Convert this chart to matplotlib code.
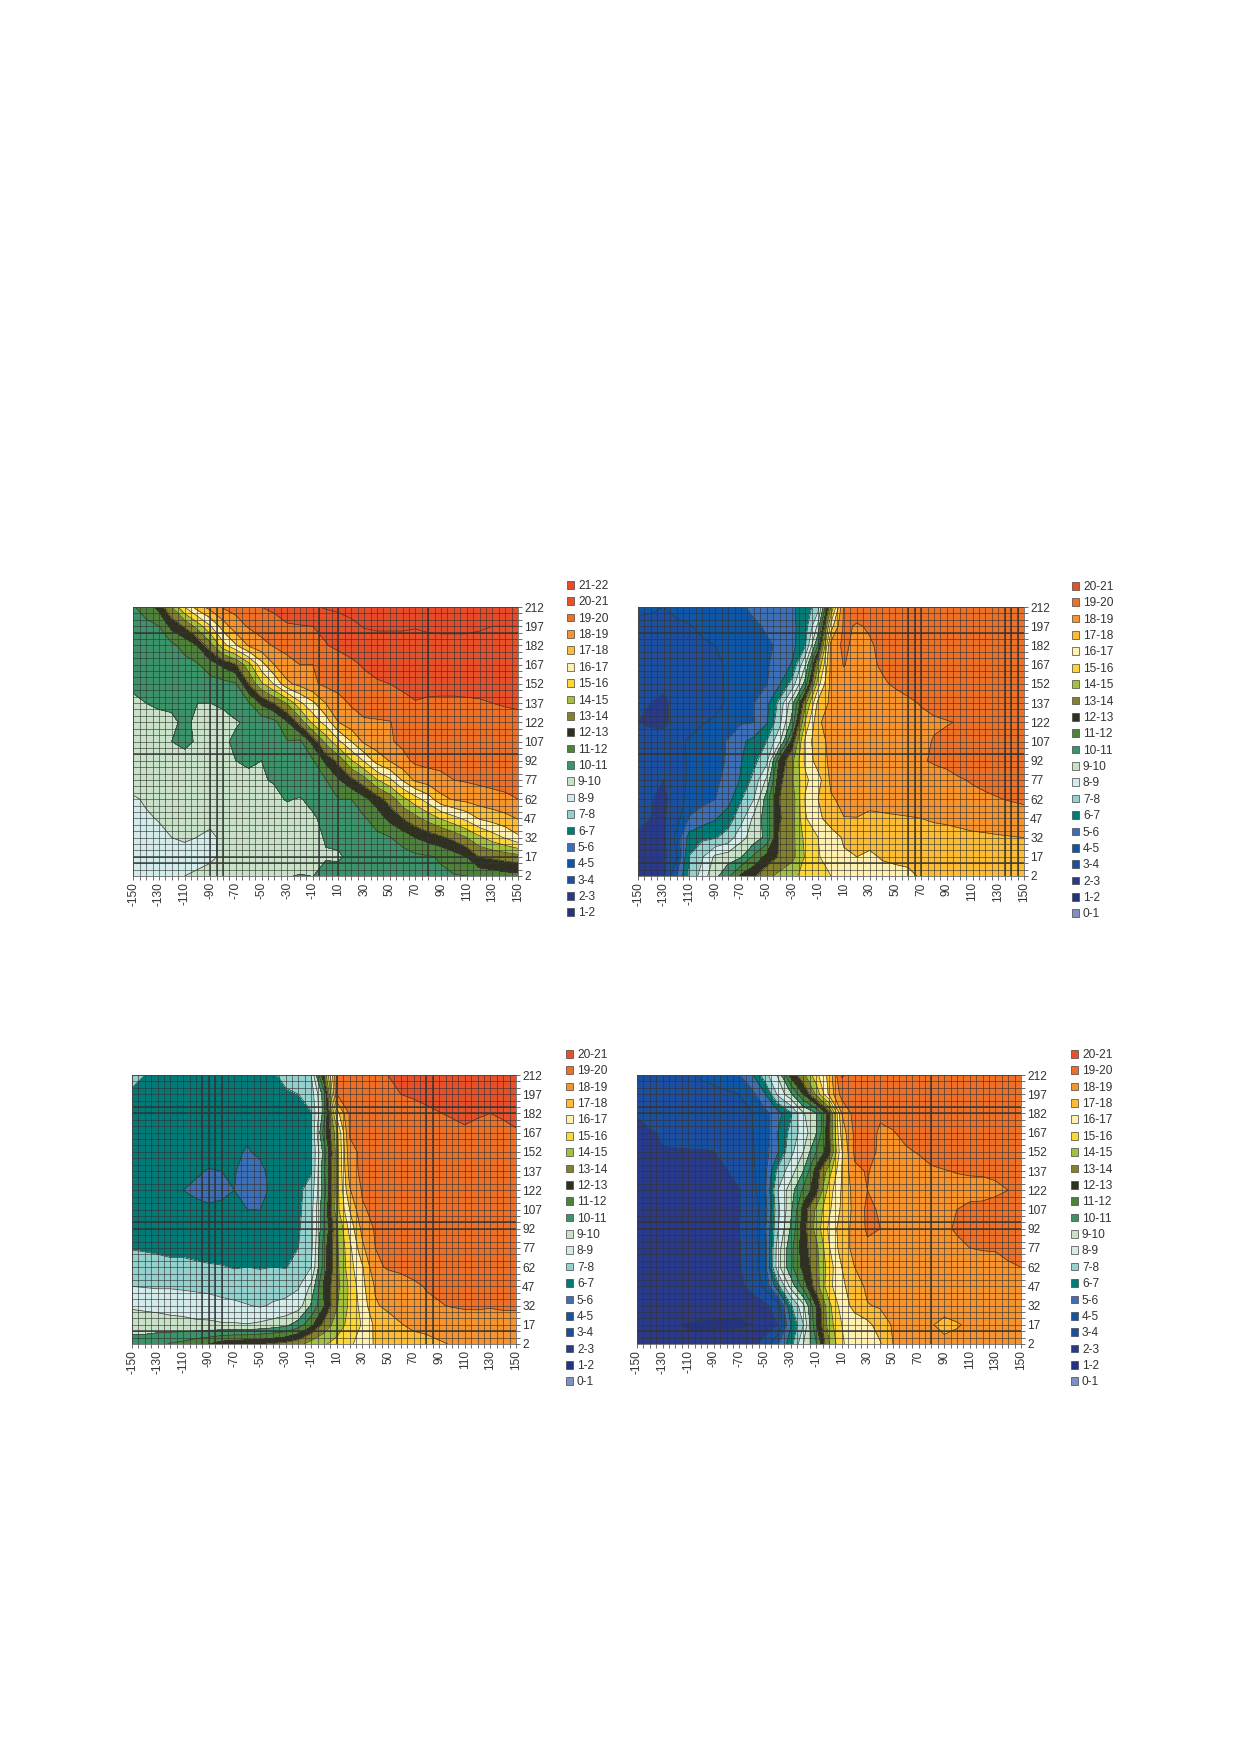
import matplotlib
matplotlib.use('Agg')
import matplotlib.pyplot as plt
from matplotlib.patches import Patch
import numpy as np

plt.rcParams['font.family'] = ['Liberation Sans', 'DejaVu Sans']

#Grid the values were read on, rows run from the top of the panel down
x_vals = [-150, -140, -130, -120, -110, -100, -90, -80, -70, -60, -50, -40, -30, -20, -10, 0,
          10, 20, 30, 40, 50, 60, 70, 80, 90, 100, 110, 120, 130, 140, 150]
y_vals = [212, 197, 182, 167, 152, 137, 122, 107, 92, 77, 62, 47, 32, 17, 2]

x_ticks = [-150, -130, -110, -90, -70, -50, -30, -10, 10, 30, 50, 70, 90, 110, 130, 150]
y_ticks = [2, 17, 32, 47, 62, 77, 92, 107, 122, 137, 152, 167, 182, 197, 212]

band_labels = ['0-1', '1-2', '2-3', '3-4', '4-5', '5-6', '6-7', '7-8', '8-9', '9-10', '10-11',
               '11-12', '12-13', '13-14', '14-15', '15-16', '16-17', '17-18', '18-19', '19-20',
               '20-21', '21-22']
band_colors = ['#7f90c6', '#25347f', '#2a3a8a', '#1c4f9f', '#0f57a6', '#3c6fb6', '#007b78', '#92d1ce',
               '#d2ecec', '#c8e2c8', '#3a9369', '#4c8339', '#30301f', '#85802a', '#a5c13b', '#fdd734',
               '#fff0ad', '#fdbc31', '#f6932d', '#ee6f26', '#e8502a', '#e74a28']
levels = list(range(0, 23))

panel_a = [
    [10.9,11.5,12.3,14.0,16.0,17.5,18.4,19.1,19.3,19.7,20.0,20.2,20.5,20.7,20.9,21.1,21.2,21.3,21.3,21.3,21.3,21.3,21.3,21.3,21.3,21.3,21.3,21.3,21.3,21.3,21.3],
    [10.3,10.7,11.0,12.3,13.1,14.4,15.9,17.5,18.6,19.1,19.4,19.6,19.9,19.95,20.0,20.2,20.5,20.8,21.05,21.1,21.1,21.1,21.05,21.15,21.2,21.2,21.2,21.1,21.0,21.0,21.0],
    [10.4,10.4,10.6,10.8,11.3,12.0,13.6,15.6,16.9,18.1,18.7,19.1,19.3,19.5,19.7,19.95,20.2,20.4,20.6,20.7,20.7,20.7,20.7,20.7,20.7,20.7,20.7,20.7,20.7,20.7,20.7],
    [10.3,10.4,10.5,10.5,10.7,10.9,11.5,12.2,12.9,14.65,16.6,18.0,18.7,19.0,19.0,19.3,19.5,19.8,20.1,20.3,20.4,20.5,20.6,20.6,20.6,20.6,20.6,20.6,20.6,20.6,20.6],
    [10.2,10.25,10.3,10.4,10.4,10.5,10.6,10.7,10.9,13.0,14.85,16.1,17.8,18.3,18.85,19.2,19.3,19.5,19.7,19.9,20.0,20.1,20.3,20.3,20.35,20.35,20.35,20.35,20.35,20.35,20.3],
    [9.8,10.0,10.1,10.1,10.1,10.0,10.0,10.1,10.3,10.9,12.2,13.05,14.1,15.8,16.8,18.0,18.7,19.1,19.3,19.5,19.7,19.85,19.95,19.85,19.8,19.8,19.85,19.9,20.0,20.1,20.2],
    [9.7,9.75,9.8,9.9,10.1,9.9,9.7,9.8,9.95,10.1,10.4,10.7,11.9,13.4,15.3,16.4,18.0,18.6,18.9,18.9,18.95,19.4,19.55,19.6,19.6,19.6,19.6,19.6,19.6,19.6,19.6],
    [9.6,9.65,9.7,10.0,10.2,9.9,9.8,9.9,10.1,10.3,10.5,10.7,10.95,10.8,12.3,14.3,15.8,17.0,18.2,18.6,18.9,19.2,19.4,19.5,19.5,19.5,19.5,19.5,19.5,19.5,19.5],
    [9.55,9.6,9.6,9.6,9.7,9.7,9.75,9.85,10.0,10.1,10.0,10.2,10.4,10.7,10.9,12.2,13.3,14.9,16.1,17.4,18.05,18.7,19.2,19.3,19.3,19.3,19.3,19.3,19.3,19.35,19.35],
    [9.4,9.45,9.5,9.55,9.6,9.6,9.6,9.7,9.75,9.85,9.95,10.05,10.3,10.5,10.7,10.95,11.9,12.75,13.6,14.95,15.8,17.1,18.2,18.5,18.75,19.0,19.1,19.2,19.3,19.35,19.4],
    [8.9,9.1,9.2,9.3,9.4,9.4,9.45,9.5,9.6,9.65,9.75,9.85,10.05,9.95,10.2,10.6,11.0,11.0,11.7,12.5,13.4,14.7,15.6,16.5,17.7,18.1,18.3,18.5,18.65,18.8,19.0],
    [8.7,8.9,9.05,9.15,9.2,9.2,9.25,9.3,9.35,9.45,9.5,9.6,9.7,9.85,9.9,10.2,10.5,10.75,10.9,11.4,12.3,13.0,13.7,14.4,15.1,15.7,16.3,17.1,17.4,17.7,18.05],
    [8.4,8.6,8.8,9.0,9.1,8.99,8.8,9.2,9.3,9.35,9.4,9.5,9.6,9.7,9.8,10.05,10.2,10.4,10.6,10.8,10.95,11.4,12.0,12.4,12.8,13.3,14.0,14.8,15.5,16.1,16.8],
    [8.3,8.4,8.5,8.6,8.7,8.8,8.9,9.1,9.2,9.25,9.3,9.35,9.4,9.5,9.7,9.95,9.9,10.2,10.3,10.4,10.5,10.6,10.8,10.9,11.1,11.5,12.0,13.05,13.2,13.4,13.6],
    [8.2,8.3,8.5,8.7,9.0,9.1,9.2,9.25,9.3,9.35,9.4,9.5,9.95,10.05,9.99,10.2,10.3,10.4,10.4,10.5,10.5,10.6,10.7,10.75,10.85,10.95,11.0,11.2,11.4,11.6,11.7],
]

panel_b = [
    [4.1,4.1,4.0,4.3,4.4,4.5,4.6,4.7,4.9,5.2,5.5,5.7,5.9,6.4,7.6,14.0,19.2,19.5,19.5,19.5,19.5,19.5,19.5,19.5,19.5,19.5,19.5,19.5,19.5,19.5,19.5],
    [3.9,3.8,3.7,3.8,3.95,4.2,4.3,4.5,4.65,4.85,5.1,5.4,5.8,6.5,9.3,16.5,19.2,18.9,19.1,19.5,19.5,19.5,19.5,19.5,19.5,19.5,19.5,19.5,19.5,19.5,19.5],
    [3.7,3.7,3.6,3.6,3.7,3.85,4.0,4.2,4.4,4.7,4.9,5.1,5.7,6.9,11.1,18.4,19.2,18.7,18.9,19.2,19.4,19.5,19.5,19.5,19.5,19.5,19.5,19.5,19.5,19.5,19.5],
    [3.7,3.6,3.6,3.6,3.6,3.7,3.85,4.1,4.3,4.6,4.9,5.4,6.1,8.9,14.0,18.3,19.05,18.6,18.85,19.1,19.3,19.4,19.5,19.5,19.5,19.5,19.5,19.5,19.5,19.5,19.5],
    [3.8,3.6,3.2,3.6,3.6,3.7,3.9,4.05,4.3,4.6,4.95,5.9,7.4,10.4,15.6,18.3,18.6,18.6,18.7,18.9,19.1,19.3,19.5,19.5,19.5,19.5,19.5,19.5,19.5,19.5,19.5],
    [3.4,3.0,2.8,3.4,3.5,3.6,3.8,4.1,4.4,5.0,5.7,7.3,9.7,13.7,17.3,18.2,18.4,18.5,18.5,18.6,18.7,18.85,19.05,19.2,19.4,19.5,19.5,19.5,19.5,19.5,19.5],
    [3.0,2.8,2.8,3.3,3.6,3.95,4.1,4.4,4.9,4.98,5.9,7.7,10.4,15.1,17.9,18.3,18.4,18.4,18.4,18.5,18.6,18.7,18.8,18.9,18.95,19.05,19.2,19.3,19.35,19.4,19.4],
    [3.5,3.5,3.4,3.8,4.1,4.3,4.6,5.1,5.8,6.3,7.0,8.8,12.4,16.3,17.7,18.2,18.3,18.35,18.4,18.4,18.5,18.6,18.8,19.05,19.2,19.3,19.4,19.4,19.4,19.4,19.4],
    [3.6,3.5,3.5,3.7,4.1,4.4,4.7,5.1,5.95,6.7,7.7,12.2,13.8,16.2,17.5,18.2,18.3,18.35,18.4,18.45,18.5,18.6,18.9,19.1,19.2,19.3,19.35,19.4,19.4,19.4,19.4],
    [3.5,3.3,3.0,3.7,4.1,4.3,4.8,5.3,6.1,7.3,9.2,12.7,13.9,15.8,16.6,18.2,18.3,18.3,18.35,18.35,18.4,18.4,18.5,18.6,18.75,18.95,19.05,19.15,19.25,19.3,19.4],
    [3.4,3.05,2.8,3.5,4.3,4.7,5.0,5.6,6.9,8.0,10.5,13.0,13.5,16.1,17.0,17.9,18.2,18.3,18.3,18.35,18.4,18.4,18.45,18.5,18.6,18.75,18.85,18.9,18.97,19.05,19.1],
    [3.3,3.0,2.9,3.6,5.1,5.5,5.9,6.5,7.6,9.25,10.5,12.9,13.6,15.9,16.8,17.4,17.98,17.98,17.8,17.85,17.9,17.95,18.0,18.1,18.15,18.25,18.4,18.45,18.55,18.65,18.75],
    [2.8,2.8,2.8,4.3,6.4,6.8,6.9,7.4,8.7,9.4,10.3,13.2,13.7,15.3,16.0,16.6,17.1,17.3,17.4,17.4,17.5,17.6,17.6,17.65,17.7,17.75,17.8,17.85,17.9,17.95,18.0],
    [2.7,2.7,2.8,3.9,7.05,7.9,9.2,9.5,9.9,11.2,12.3,13.1,13.7,15.1,15.95,16.3,16.9,17.0,16.8,17.1,17.2,17.25,17.3,17.4,17.4,17.4,17.45,17.45,17.5,17.5,17.5],
    [2.6,2.6,2.7,5.0,7.1,8.5,9.7,10.8,12.2,12.8,13.7,14.3,14.85,15.2,15.6,16.0,16.2,16.4,16.5,16.6,16.7,16.8,17.1,17.2,17.3,17.3,17.4,17.4,17.5,17.5,17.5],
]

panel_c = [
    [7.2,7.0,6.95,6.7,6.7,6.7,6.6,6.6,6.6,6.7,6.8,6.9,7.2,7.5,8.0,13.0,19.0,19.3,19.5,19.7,20.0,20.2,20.4,20.5,20.5,20.5,20.5,20.5,20.5,20.5,20.5],
    [6.9,6.8,6.7,6.6,6.6,6.6,6.5,6.5,6.5,6.5,6.6,6.85,6.9,7.0,7.4,10.5,19.0,19.3,19.5,19.7,19.9,20.0,20.1,20.2,20.3,20.4,20.5,20.5,20.5,20.5,20.4],
    [6.7,6.7,6.6,6.6,6.5,6.5,6.5,6.5,6.4,6.4,6.5,6.6,6.7,6.8,6.95,10.5,16.5,19.1,19.3,19.4,19.5,19.6,19.7,19.85,19.97,20.1,20.3,20.1,20.0,20.1,20.3],
    [6.7,6.6,6.6,6.5,6.5,6.4,6.4,6.3,6.2,6.1,6.3,6.5,6.7,6.8,6.9,11.5,14.6,19.1,19.2,19.3,19.35,19.4,19.45,19.5,19.55,19.7,19.8,19.7,19.7,19.8,19.9],
    [6.6,6.6,6.5,6.5,6.4,6.4,6.3,6.2,6.1,5.95,6.1,6.4,6.6,6.8,6.9,10.4,14.5,18.7,19.2,19.3,19.3,19.3,19.3,19.35,19.35,19.4,19.4,19.4,19.45,19.5,19.5],
    [6.5,6.5,6.5,6.4,6.2,6.1,5.95,6.0,6.05,5.7,5.85,6.2,6.5,6.7,6.9,10.8,14.5,18.4,19.3,19.3,19.3,19.3,19.3,19.3,19.3,19.3,19.3,19.3,19.3,19.3,19.3],
    [6.5,6.5,6.4,6.3,6.0,5.85,5.8,5.9,6.0,5.6,5.7,6.2,6.5,6.8,7.4,10.5,14.5,17.9,19.1,19.3,19.3,19.3,19.3,19.3,19.3,19.3,19.3,19.3,19.3,19.3,19.3],
    [6.5,6.45,6.4,6.3,6.25,6.2,6.1,6.1,6.05,6.0,5.99,6.3,6.55,6.8,7.6,11.0,14.6,17.0,18.9,19.2,19.3,19.3,19.3,19.3,19.3,19.3,19.3,19.3,19.3,19.3,19.3],
    [6.4,6.4,6.4,6.4,6.3,6.3,6.3,6.3,6.3,6.3,6.3,6.4,6.6,6.9,7.6,11.0,13.8,16.3,18.3,19.1,19.3,19.3,19.3,19.3,19.3,19.3,19.3,19.3,19.3,19.3,19.3],
    [6.95,6.9,6.85,6.8,6.8,6.7,6.6,6.6,6.5,6.5,6.5,6.6,6.7,7.0,7.7,11.5,13.8,15.7,17.8,19.0,19.2,19.3,19.3,19.3,19.3,19.3,19.3,19.3,19.3,19.3,19.3],
    [7.4,7.4,7.3,7.2,7.2,7.15,7.1,7.05,6.95,7.0,6.95,7.0,6.95,7.3,8.0,11.5,13.7,15.6,16.9,18.8,19.1,19.2,19.3,19.4,19.4,19.4,19.4,19.4,19.4,19.4,19.4],
    [8.0,7.95,7.9,7.9,7.85,7.8,7.75,7.6,7.5,7.4,7.4,7.6,7.7,7.9,9.2,12.2,13.7,15.2,16.7,18.1,18.4,18.6,18.85,19.05,19.15,19.3,19.3,19.3,19.3,19.3,19.3],
    [8.8,8.75,8.7,8.7,8.6,8.5,8.4,8.3,8.2,8.05,7.9,8.1,8.2,8.5,10.1,11.9,13.9,15.2,16.4,17.9,18.2,18.4,18.7,18.85,18.95,19.05,19.1,19.1,19.05,19.1,19.1],
    [9.8,9.6,9.5,9.3,9.3,9.2,9.2,9.1,9.1,9.05,9.2,9.4,9.7,10.5,11.7,13.3,14.5,15.3,16.1,17.2,17.6,17.95,18.2,18.3,18.4,18.5,18.6,18.65,18.7,18.7,18.7],
    [10.2,10.4,10.7,11.1,11.3,11.7,12.0,12.5,12.7,12.8,12.9,13.1,13.3,13.7,14.5,14.9,15.3,15.8,16.5,17.1,17.3,17.5,17.6,17.7,17.9,18.05,18.1,18.15,18.2,18.25,18.3],
]

panel_d = [
    [3.3,3.4,3.5,3.6,3.85,4.1,4.3,4.6,4.95,5.9,7.6,9.1,12.3,13.7,15.7,17.3,20.1,19.7,19.6,19.6,19.6,19.6,19.6,19.6,19.6,19.6,19.6,19.6,19.6,19.6,19.6],
    [3.6,3.5,3.5,3.55,3.6,3.7,3.75,3.85,4.0,4.7,5.9,8.2,9.7,12.0,14.2,17.2,19.4,19.5,19.6,19.6,19.6,19.6,19.6,19.6,19.6,19.6,19.6,19.6,19.6,19.6,19.6],
    [3.05,3.2,3.4,3.4,3.4,3.4,3.5,3.6,3.8,4.0,4.7,5.6,6.8,8.9,9.9,12.5,18.0,19.4,19.4,19.1,19.3,19.5,19.6,19.6,19.6,19.6,19.6,19.6,19.6,19.6,19.6],
    [2.8,2.95,3.05,3.2,3.3,3.3,3.4,3.55,3.7,3.95,4.5,6.0,7.3,8.5,9.9,12.7,17.4,19.2,19.3,18.9,18.95,19.2,19.4,19.6,19.6,19.6,19.6,19.6,19.6,19.6,19.6],
    [2.7,2.85,2.98,2.95,2.95,2.95,2.98,3.3,3.6,3.9,4.6,5.9,7.7,9.0,11.0,12.5,16.9,19.15,19.2,18.9,18.8,18.9,19.05,19.35,19.5,19.6,19.6,19.6,19.6,19.6,19.6],
    [2.6,2.7,2.8,2.8,2.8,2.8,2.9,2.97,3.3,3.8,4.7,7.3,8.5,10.0,12.4,14.5,17.0,18.85,19.05,18.7,18.6,18.6,18.7,18.85,18.95,19.05,19.1,19.1,19.15,19.3,19.4],
    [2.5,2.5,2.6,2.6,2.65,2.7,2.8,2.85,2.97,3.6,4.8,8.0,9.5,11.2,12.6,15.5,17.1,18.4,19.0,18.6,18.5,18.5,18.5,18.55,18.6,18.65,18.7,18.75,18.85,19.0,19.2],
    [2.5,2.5,2.6,2.6,2.65,2.7,2.8,2.85,2.97,3.5,4.5,7.7,9.7,12.4,14.2,15.8,17.2,18.3,19.2,18.9,18.6,18.5,18.5,18.8,18.9,19.0,19.2,19.2,19.3,19.3,19.4],
    [2.5,2.5,2.55,2.6,2.65,2.7,2.8,2.85,3.0,3.5,4.8,7.9,10.1,12.5,14.4,16.2,17.5,18.3,19.15,19.0,18.6,18.5,18.5,18.5,18.85,19.1,19.3,19.3,19.35,19.4,19.4],
    [2.5,2.5,2.55,2.6,2.65,2.7,2.8,2.85,2.95,3.5,4.5,8.5,10.6,12.6,13.7,15.9,17.5,18.3,18.8,18.6,18.5,18.5,18.5,18.5,18.55,18.8,19.0,19.05,19.05,19.2,19.3],
    [2.5,2.5,2.55,2.6,2.65,2.7,2.8,2.85,2.95,3.5,4.6,8.6,10.7,12.3,13.6,15.5,17.0,18.0,18.3,18.4,18.4,18.5,18.5,18.55,18.6,18.6,18.65,18.7,18.8,18.9,19.0],
    [2.4,2.4,2.45,2.5,2.55,2.6,2.7,2.75,2.8,3.3,4.2,6.6,9.3,11.4,13.5,15.7,16.8,17.5,18.2,18.3,18.4,18.4,18.45,18.5,18.5,18.55,18.6,18.6,18.6,18.65,18.7],
    [2.4,2.4,2.4,2.4,2.35,2.3,2.25,2.2,2.2,2.5,2.8,3.5,6.8,8.8,12.0,14.7,16.5,17.3,17.95,18.1,18.2,18.3,18.3,18.3,18.3,18.3,18.3,18.3,18.35,18.4,18.4],
    [2.3,2.3,2.2,2.05,1.95,1.9,1.9,1.9,1.9,2.0,2.4,3.0,5.9,8.0,11.9,14.5,16.0,16.5,16.7,17.5,18.1,18.2,18.25,18.05,17.8,17.95,18.1,18.3,18.3,18.35,18.4],
    [2.3,2.2,2.05,2.1,2.1,2.2,2.3,2.3,2.4,2.6,3.5,4.9,6.5,9.0,10.9,13.9,15.9,16.4,16.7,16.9,18.0,18.1,18.1,18.15,18.2,18.2,18.25,18.3,18.3,18.3,18.3],
]

W, H = 1239, 1754
fig = plt.figure(figsize=(W/100, H/100), dpi=100)

#left, right, top, bottom of plot, legend x and y of first entry (pixels)
layouts = [
    (133.3, 518, 607, 876, 567, 585),
    (638, 1024, 607, 876, 1072, 586),
    (132, 516, 1075, 1344, 566, 1054),
    (637, 1021, 1075, 1344, 1071, 1054),
]
panels = [panel_a, panel_b, panel_c, panel_d]
top_band = [21, 20, 20, 20]
first_band = [1, 0, 0, 0]
#the heavier looking grid lines
heavy_x = [[-90, -85, -80, -5, 10, 80],
           [60, 65, 70, 135, 140, 145],
           [-95, -90, -85, -80, 10, 80, 85],
           [80]]
heavy_y = [[192, 97, 17, 12], [192, 97, 12], [187, 182, 97, 92, 12], [187, 182, 97, 92, 12]]

for i in range(4):
    left, right, top, bottom, leg_x, leg_y = layouts[i]
    ax = fig.add_axes([left/W, 1-bottom/H, (right-left)/W, (bottom-top)/H])
    z = np.array(panels[i])
    ax.contourf(x_vals, y_vals, z, levels=levels, colors=band_colors)
    ax.contour(x_vals, y_vals, z, levels=levels, colors='#3a3a2a', linewidths=0.5)
    ax.set_xlim(-150, 150)
    ax.set_ylim(2, 212)

    ax.set_xticks(x_ticks)
    ax.set_xticklabels(x_ticks, rotation=90)
    ax.set_xticks(np.arange(-150, 151, 5), minor=True)
    ax.yaxis.tick_right()
    ax.set_yticks(y_ticks)
    ax.set_yticks(np.arange(2, 213, 5), minor=True)
    ax.tick_params(which='both', length=3, width=0.6, color='#555555', labelsize=8.6,
                   labelcolor='#333333', pad=1.5)
    ax.set_axisbelow(False)
    ax.grid(which='minor', color='#333333', linewidth=0.5, alpha=0.85)
    ax.grid(which='major', color='#333333', linewidth=0.5, alpha=0.85)
    for v in heavy_x[i]:
        ax.axvline(v, color='#333333', linewidth=1.2, alpha=0.85)
    for v in heavy_y[i]:
        ax.axhline(v, color='#333333', linewidth=1.2, alpha=0.85)
    for s in ax.spines.values():
        s.set_color('#666666')
        s.set_linewidth(0.6)

    handles = []
    for b in range(top_band[i], first_band[i]-1, -1):
        handles.append(Patch(facecolor=band_colors[b], edgecolor='#444444', linewidth=0.5, label=band_labels[b]))
    ax.legend(handles=handles, loc='upper left', bbox_to_anchor=(leg_x/W, 1-(leg_y-5)/H),
              bbox_transform=fig.transFigure, frameon=False, fontsize=8.6, borderpad=0, borderaxespad=0,
              handlelength=0.62, handleheight=0.62, handletextpad=0.3, labelspacing=0.366,
              labelcolor='#333333')

fig.savefig('out.png', dpi=100)
